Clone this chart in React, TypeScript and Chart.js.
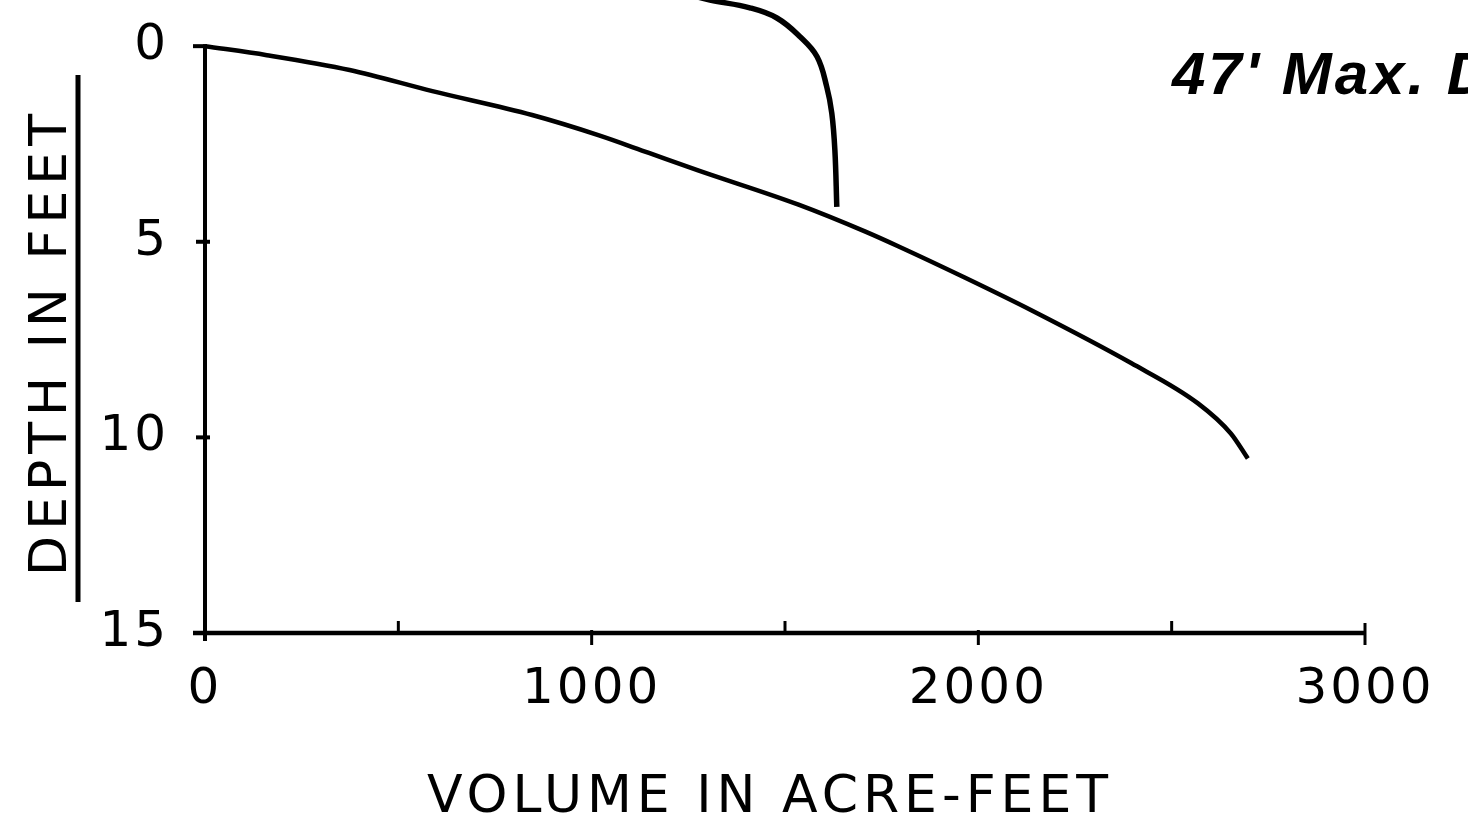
import React, { useEffect, useRef } from "react";
import { Chart, registerables } from "chart.js";
Chart.register(...registerables);

// Depth–volume curve (volume in acre-feet, depth in feet)
const volumeMain = [0, 160, 374, 588, 846, 1019, 1148, 1277, 1535, 1708, 1794, 1966, 2137, 2395, 2568, 2653, 2697];
const depthMain = [0, 0.23, 0.61, 1.15, 1.76, 2.28, 2.73, 3.18, 4.05, 4.74, 5.12, 5.92, 6.75, 8.1, 9.13, 9.9, 10.54];

// Upper curve (partly cut off at the top of the figure)
const volumeUpper = [1250, 1306, 1409, 1479, 1539, 1583, 1608, 1621, 1629, 1634];
const depthUpper = [-1.32, -1.18, -0.98, -0.72, -0.24, 0.27, 1.04, 1.71, 2.66, 4.11];

const xTickValues = [0, 1000, 2000, 3000];
const yTickValues = [0, 5, 10, 15];
const xMinorUp = [500, 1500, 2500];
const xMinorDown = [1000, 2000];
const yMinor = [5, 10];

const xTitle = "VOLUME IN ACRE-FEET";
const yTitle = "DEPTH IN FEET";
const noteText = "47' Max. Depth";

const FONT = '"DejaVu Sans", sans-serif';

const decor = {
  id: "decor",
  beforeDraw(chart: any) {
    (chart.ctx as any).letterSpacing = "3px";
  },
  afterDraw(chart: any) {
    const ctx = chart.ctx as CanvasRenderingContext2D;
    const xs = chart.scales.x;
    const ys = chart.scales.y;
    const x0 = xs.getPixelForValue(0);
    const x3 = xs.getPixelForValue(3000);
    const yTop = ys.getPixelForValue(0);
    const yBot = ys.getPixelForValue(15);
    ctx.save();
    ctx.strokeStyle = "#000";
    ctx.lineCap = "butt";
    // y axis
    ctx.lineWidth = 4;
    ctx.beginPath();
    ctx.moveTo(x0, yTop - 2);
    ctx.lineTo(x0, yBot + 8);
    ctx.stroke();
    // x axis
    ctx.lineWidth = 4.5;
    ctx.beginPath();
    ctx.moveTo(x0 - 12, yBot);
    ctx.lineTo(x3, yBot);
    ctx.stroke();
    // tick at 0 depth
    ctx.lineWidth = 4;
    ctx.beginPath();
    ctx.moveTo(x0 - 12, yTop);
    ctx.lineTo(x0 + 2, yTop);
    ctx.stroke();
    // y minor ticks
    yMinor.forEach((v) => {
      const y = ys.getPixelForValue(v);
      ctx.beginPath();
      ctx.moveTo(x0 - 9, y);
      ctx.lineTo(x0 + 5, y);
      ctx.stroke();
    });
    // x ticks
    ctx.lineWidth = 3;
    xMinorUp.forEach((v) => {
      const x = xs.getPixelForValue(v);
      ctx.beginPath();
      ctx.moveTo(x, yBot);
      ctx.lineTo(x, yBot - 12);
      ctx.stroke();
    });
    xMinorDown.forEach((v) => {
      const x = xs.getPixelForValue(v);
      ctx.beginPath();
      ctx.moveTo(x, yBot - 3);
      ctx.lineTo(x, yBot + 12);
      ctx.stroke();
    });
    ctx.beginPath();
    ctx.moveTo(x3, yBot - 10);
    ctx.lineTo(x3, yBot + 12);
    ctx.stroke();

    // titles
    ctx.fillStyle = "#000";
    (ctx as any).letterSpacing = "5px";
    ctx.font = `52px ${FONT}`;
    ctx.textAlign = "center";
    ctx.textBaseline = "middle";
    ctx.fillText(xTitle, 770, 798);
    ctx.save();
    ctx.translate(52, 342);
    ctx.rotate(-Math.PI / 2);
    (ctx as any).letterSpacing = "6px";
    ctx.fillText(yTitle, 0, 0);
    ctx.restore();
    // underline of y title
    ctx.lineWidth = 5;
    ctx.beginPath();
    ctx.moveTo(78, 75);
    ctx.lineTo(78, 602);
    ctx.stroke();
    // note
    (ctx as any).letterSpacing = "3px";
    ctx.font = `italic bold 60px "Liberation Sans", sans-serif`;
    ctx.textAlign = "left";
    ctx.textBaseline = "alphabetic";
    ctx.fillText(noteText, 1172, 94);
    ctx.restore();
    (ctx as any).letterSpacing = "0px";
  },
};

export default function App() {
  const ref = useRef<HTMLCanvasElement | null>(null);
  useEffect(() => {
    document.body.style.margin = "0";
    const canvas = ref.current!;
    const chart = new Chart(canvas, {
      type: "scatter",
      data: {
        datasets: [
          {
            label: "Volume",
            data: volumeMain.map((v, i) => ({ x: v, y: depthMain[i] })),
            showLine: true,
            borderColor: "#000",
            borderWidth: 4.5,
            pointRadius: 0,
            cubicInterpolationMode: "monotone",
          },
          {
            label: "Upper",
            data: volumeUpper.map((v, i) => ({ x: v, y: depthUpper[i] })),
            showLine: true,
            borderColor: "#000",
            borderWidth: 5.5,
            pointRadius: 0,
            tension: 0.4,
          },
        ],
      },
      options: {
        animation: false,
        responsive: false,
        maintainAspectRatio: false,
        layout: { padding: { left: 0, right: 103, top: 0, bottom: 0 }, autoPadding: false },
        plugins: { legend: { display: false }, tooltip: { enabled: false }, title: { display: false } },
        scales: {
          x: {
            type: "linear",
            min: 0,
            max: 3000,
            grid: { display: false, drawTicks: false },
            border: { display: false },
            afterBuildTicks: (s: any) => {
              s.ticks = xTickValues.map((v) => ({ value: v }));
            },
            afterFit: (s: any) => {
              s.height = 190;
              s.paddingLeft = 0;
              s.paddingRight = 0;
            },
            ticks: {
              color: "#000",
              font: { family: FONT, size: 50 },
              padding: 27,
              maxRotation: 0,
              autoSkip: false,
              callback: (v: any) => String(v),
            },
          },
          y: {
            type: "linear",
            min: -1.18,
            max: 15,
            reverse: true,
            grid: { display: false, drawTicks: false },
            border: { display: false },
            afterBuildTicks: (s: any) => {
              s.ticks = yTickValues.map((v) => ({ value: v }));
            },
            afterFit: (s: any) => {
              s.width = 205;
              s.paddingTop = 0;
              s.paddingBottom = 0;
            },
            ticks: {
              color: "#000",
              font: { family: FONT, size: 50 },
              padding: 36,
              autoSkip: false,
              callback: (v: any) => String(v),
            },
          },
        },
      },
      plugins: [decor],
    });
    return () => chart.destroy();
  }, []);
  return (
    <div style={{ width: 1468, height: 823, background: "#fff" }}>
      <canvas ref={ref} width={1468} height={823} style={{ width: 1468, height: 823, display: "block" }} />
    </div>
  );
}
